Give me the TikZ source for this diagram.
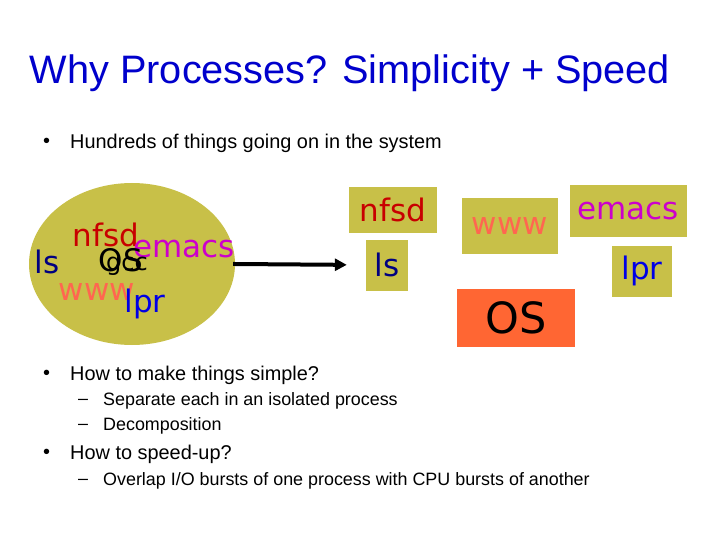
\documentclass[tikz,border=0pt]{standalone}
\usepackage{fontspec}
\setmainfont{Liberation Sans}
\newfontfamily\handfont{DejaVu Sans}
\usetikzlibrary{arrows.meta,positioning,shapes.geometric}
\definecolor{titleblue}{RGB}{0,0,204}
\definecolor{procbg}{RGB}{200,192,72}
\definecolor{osbg}{RGB}{255,102,51}
\definecolor{nfsdred}{RGB}{200,0,0}
\definecolor{emacsmag}{RGB}{204,0,204}
\definecolor{lsnavy}{RGB}{0,0,128}
\definecolor{wwwsalmon}{RGB}{255,102,80}
\definecolor{lprblue}{RGB}{0,0,230}

\begin{document}
\begin{tikzpicture}[x=1pt, y=-1pt,
    proc/.style={rectangle, fill=procbg, inner sep=0pt, font=\handfont\fontsize{31}{31}\selectfont},
    loose/.style={inner sep=0pt, font=\handfont\fontsize{31}{31}\selectfont},
    item/.style={anchor=west, inner sep=0pt, font=\fontsize{19.9}{22}\selectfont},
    subitem/.style={anchor=west, inner sep=0pt, font=\fontsize{17.9}{20}\selectfont},
    arrow/.style={-{Triangle[length=12pt, width=12pt]}, line width=4pt}
  ]
    \useasboundingbox (0,0) rectangle (720,540);
    \node[text=titleblue, font=\fontsize{39.7}{42}\selectfont] (title) at (350,73) {Why Processes? Simplicity + Speed};
    \node[item] (hundreds) at (70,143) {Hundreds of things going on in the system};
    \node[item] (dot1) at (43,143) {\textbullet};

    % everything mixed together
    \node[ellipse, fill=procbg, minimum width=206, minimum height=162] (blob) at (132,264) {};
    \node[loose, text=nfsdred] (nfsdA) at (106,235) {nfsd};
    \node[loose, text=emacsmag] (emacsA) at (184,249) {emacs};
    \node[loose, text=lsnavy] (lsA) at (47,262) {ls};
    \node[loose, font=\handfont\fontsize{24}{24}\selectfont] (gccA) at (127,266) {gcc};
    \node[loose] (osA) at (121,260) {OS};
    \node[loose, text=wwwsalmon] (wwwA) at (97,292) {www};
    \node[loose, text=lprblue] (lprA) at (145,304) {lpr};

    % separated processes
    \node[proc, text=nfsdred, minimum width=88, minimum height=46] (nfsd) at (393,210) {nfsd};
    \node[proc, text=lsnavy, minimum width=42, minimum height=51] (ls) at (387,265) {ls};
    \node[proc, text=wwwsalmon, minimum width=96, minimum height=56] (www) at (510,226) {www};
    \node[proc, text=emacsmag, minimum width=117, minimum height=51] (emacs) at (628,211) {emacs};
    \node[proc, text=lprblue, minimum width=60, minimum height=51] (lpr) at (642,271) {lpr};
    \node[proc, fill=osbg, minimum width=118, minimum height=58, font=\handfont\fontsize{43}{43}\selectfont] (os) at (516,318) {OS};

    \draw[arrow, shorten <=-2pt, shorten >=19pt] (blob.east) -- (ls.west);

    \node[item] (dot2) at (43,375) {\textbullet};
    \node[item] (simple) at (70,375) {How to make things simple?};
    \node[subitem] (dash1) at (78,402) {--};
    \node[subitem] (separate) at (103,401) {Separate each in an isolated process};
    \node[subitem] (dash2) at (78,427) {--};
    \node[subitem] (decomp) at (103,426) {Decomposition};
    \node[item] (dot3) at (43,454) {\textbullet};
    \node[item] (speed) at (70,454) {How to speed-up?};
    \node[subitem] (dash3) at (78,482) {--};
    \node[subitem] (overlap) at (103,481) {Overlap I/O bursts of one process with CPU bursts of another};
  \end{tikzpicture}
\end{document}
